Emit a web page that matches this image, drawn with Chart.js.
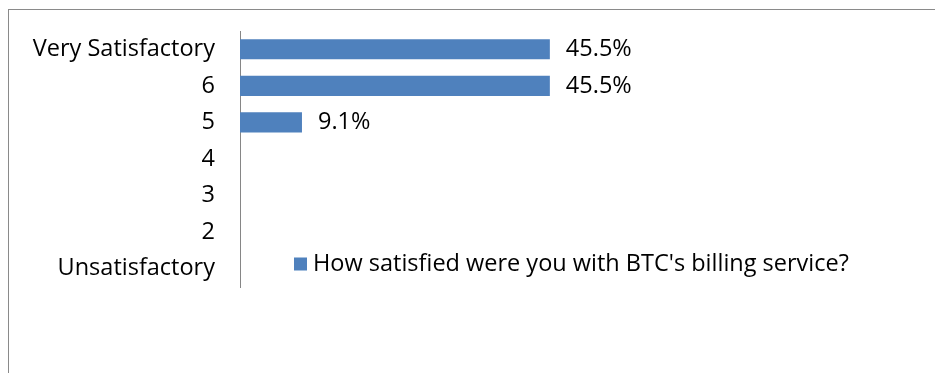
<!DOCTYPE html>
<html>
<head>
<meta charset="utf-8">
<script src="https://cdn.jsdelivr.net/npm/chart.js@4.4.1/dist/chart.umd.min.js"></script>
<style>
  body { margin: 0; background: #fff; }
  #wrap { position: relative; width: 935px; height: 373px; overflow: hidden; }
  #frame { position: absolute; left: 8px; top: 9px; width: 1000px; height: 500px;
           border-left: 1px solid #8a8a8a; border-top: 1px solid #8a8a8a; }
  canvas { position: absolute; left: 0; top: 0; }
</style>
</head>
<body>
<div id="wrap">
  <div id="frame"></div>
  <canvas id="chart" width="935" height="373"></canvas>
</div>
<script>
// setup
const categories = ['Very Satisfactory', '6', '5', '4', '3', '2', 'Unsatisfactory'];
const percents = [45.5, 45.5, 9.1, 0, 0, 0, 0];
const seriesName = "How satisfied were you with BTC's billing service?";

const FONT = "'Open Sans', sans-serif";
const FONT_SIZE = 23.5;
const barBlue = '#4f81bd';

// value labels at the end of each bar
const valueLabels = {
    id: 'valueLabels',
    afterDatasetsDraw(chart) {
        const ctx = chart.ctx;
        const meta = chart.getDatasetMeta(0);
        ctx.save();
        ctx.font = FONT_SIZE + 'px ' + FONT;
        ctx.fillStyle = '#000';
        ctx.textBaseline = 'middle';
        meta.data.forEach((bar, i) => {
            if (!percents[i]) return;
            ctx.fillText(percents[i].toFixed(1) + '%', bar.x + 16, bar.y);
        });
        ctx.restore();
    }
};

// legend sits inside the plot like the original
const innerLegend = {
    id: 'innerLegend',
    afterDraw(chart) {
        const ctx = chart.ctx;
        const area = chart.chartArea;
        const ds = chart.data.datasets[0];
        const x = area.left + 54;
        const y = area.bottom - 23;
        ctx.save();
        ctx.fillStyle = ds.backgroundColor;
        ctx.fillRect(x, y - 6.5, 13, 13);
        ctx.font = FONT_SIZE + 'px ' + FONT;
        ctx.fillStyle = '#000';
        ctx.textBaseline = 'middle';
        ctx.fillText(ds.label, x + 19, y);
        ctx.restore();
    }
};

// config
const config = {
    type: 'bar',
    data: {
        labels: categories,
        datasets: [{
            label: seriesName,
            data: percents,
            backgroundColor: barBlue,
            borderWidth: 0,
            categoryPercentage: 0.55,
            barPercentage: 1
        }]
    },
    options: {
        indexAxis: 'y',
        responsive: false,
        animation: false,
        layout: { padding: { top: 31, bottom: 86, right: 14, left: 0 } },
        scales: {
            x: {
                min: 0,
                max: 100,
                display: false
            },
            y: {
                afterFit: (scale) => {
                    scale.width = 240;
                    scale.paddingTop = 0;
                    scale.paddingBottom = 0;
                },
                grid: { display: false, drawTicks: false },
                border: { display: true, color: '#868686', width: 1 },
                ticks: {
                    color: '#000',
                    padding: 25,
                    font: { family: FONT, size: FONT_SIZE }
                }
            }
        },
        plugins: {
            legend: { display: false },
            tooltip: { enabled: false }
        }
    },
    plugins: [valueLabels, innerLegend]
};

// render init block
const myChart = new Chart(document.getElementById('chart'), config);
</script>
</body>
</html>
